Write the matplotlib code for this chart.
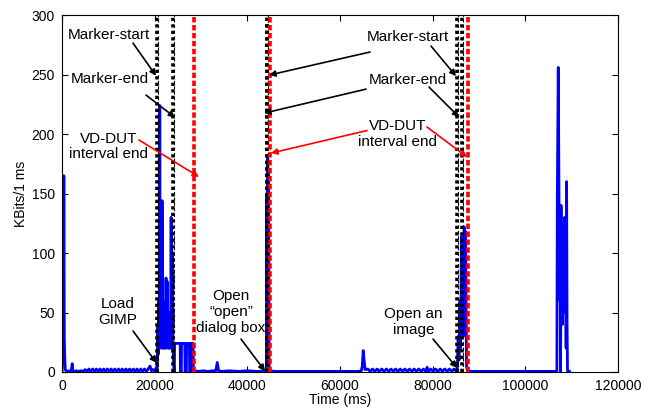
import matplotlib.pyplot as plt

plt.rcParams['font.family'] = ['Liberation Sans', 'DejaVu Sans']

# traffic trace, time in ms and throughput in KBits per 1 ms
time_ms = [0, 100, 200, 300, 400, 500, 600, 700, 900, 1200, 1500, 1800, 2000, 2200, 2300, 2400,
           2600, 3000, 3500, 4000, 4500, 5000, 5400, 5800, 6200, 6600, 7000, 7400, 7800, 8200,
           8600, 9000, 9400, 9800, 10200, 10600, 11000, 11400, 11800, 12200, 12600, 13000, 13400,
           13800, 14200, 14600, 15000, 15400, 15800, 16200, 16600, 17000, 17400, 17800, 18200,
           18600, 19000, 19300, 19600, 20000, 20300, 20500,
           20600, 20700, 20800, 20900, 21000, 21100, 21200, 21300, 21400, 21450, 21550, 21600,
           21700, 21800, 21850, 21950, 22000, 22100, 22150, 22250, 22300, 22400, 22450, 22550,
           22650, 22700, 22800, 22850, 22950, 23000, 23100, 23150, 23250, 23300, 23400, 23450,
           23550, 23650, 23700, 23800, 23850, 23950, 24100, 24250, 24300, 25500, 25550, 25750,
           25800, 26500, 26550, 26850, 26900, 27500, 27550, 27750, 27800, 28300, 28350, 28800,
           29500, 30500, 31500, 32500, 33200, 33500, 33800, 34500, 36000, 38000, 40000, 42000,
           44000, 44100, 44200, 44300, 44400, 44500, 44600, 44700, 44900, 46000, 48000, 52000,
           56000, 60000, 64000, 64600, 64800, 65000, 65400, 66000, 66500, 67000, 67500, 68000,
           68500, 69000, 69500, 70000, 70500, 71000, 71500, 72000, 72500, 73000, 73500, 74000,
           74500, 75000, 75500, 76000, 76500, 77000, 77500, 78000, 78500, 78800, 79100, 79600,
           80100, 80600, 81100, 81600, 82100, 82600, 83100, 83600, 84100, 84600, 85000, 85300,
           85500, 85600, 85700, 85800, 85900, 86000, 86100, 86200, 86300, 86400, 86500, 86600,
           86700, 86800, 86900, 87000, 87100, 87300, 87500, 88500, 92000, 96000, 100000, 104000,
           106500, 106800, 106900, 107000, 107100, 107200, 107300, 107400, 107500, 107600, 107700,
           107800, 107900, 108000, 108100, 108200, 108300, 108400, 108500, 108600, 108700, 108800,
           108900, 109000, 109100, 109500]
kbits = [0, 10, 48, 20, 165, 30, 12, 2, 1, 0.5, 1, 0.5, 1, 7, 2, 1,
         0.5, 1, 0.5, 1, 0.5, 2, 0.5, 2.5, 0.5, 2.5, 0.5, 2.5, 0.5, 2.5,
         0.5, 2.5, 0.5, 2.5, 0.5, 2.5, 0.5, 2.5, 0.5, 2.5, 0.5, 2.5, 0.5,
         2.5, 0.5, 2.5, 0.5, 2.5, 0.5, 2.5, 0.5, 2.5, 0.5, 2.5, 0.5,
         2.5, 5, 1, 2, 1, 3, 0,
         20, 40, 15, 60, 20, 224, 30, 50, 20, 45, 25, 144,
         35, 20, 60, 25, 45, 20, 45, 25, 20, 50, 79, 30,
         55, 76, 20, 25, 45, 50, 20, 22, 35, 40, 20, 20,
         130, 25, 22, 30, 100, 22, 5, 0, 24, 24, 0, 0,
         24, 24, 0, 0, 24, 24, 0, 0, 24, 24, 0, 1,
         0.5, 1, 0.5, 1, 1, 8, 1, 0.5, 1, 0.5, 1, 0.5,
         1, 2, 150, 60, 180, 90, 170, 5, 1, 0.5, 0.5, 0.5,
         0.5, 0.5, 0.5, 1, 5, 18, 2, 2.5, 0.5, 2.5, 0.5, 2.5,
         0.5, 2.5, 0.5, 2.5, 0.5, 2.5, 0.5, 2.5, 0.5, 2.5, 0.5, 2.5,
         0.5, 2.5, 0.5, 2.5, 0.5, 2.5, 0.5, 2.5, 0.5, 4, 0.5, 2.5,
         0.5, 2.5, 0.5, 2.5, 0.5, 2.5, 0.5, 2.5, 0.5, 2.5, 1, 2,
         30, 15, 10, 40, 60, 20, 50, 114, 40, 70, 90, 30,
         60, 122, 50, 80, 118, 5, 1, 0.5, 0.5, 0.5, 0.5, 0.5,
         0.5, 1, 150, 207, 256, 184, 120, 60, 111, 0, 140,
         80, 100, 40, 125, 70, 105, 50, 130, 60, 90, 20,
         160, 40, 1, 0.5]

# vertical event markers (ms)
marker_start = [20500, 44300, 85300]
marker_end = [24000, 44300, 86300]
vd_dut_end = [28500, 44800, 87700]

xticks = [0, 20000, 40000, 60000, 80000, 100000, 120000]
yticks = [0, 50, 100, 150, 200, 250, 300]

fig = plt.figure(figsize=(6.54, 4.09), dpi=100)
ax = fig.add_axes([0.0948, 0.0905, 0.8502, 0.8725])

ax.plot(time_ms, kbits, color='blue', lw=2.0, zorder=2)

for t in marker_start + marker_end:
    ax.axvline(t, color='black', lw=2.6, dashes=(0.9, 0.9), zorder=3)
    ax.axvline(t + 250, color='black', lw=0.8, dashes=(2.5, 2.5), zorder=3)
for t in vd_dut_end:
    ax.axvline(t, color='red', lw=2.6, dashes=(1.5, 0.7), zorder=3)

ax.set_xlim(0, 120000)
ax.set_ylim(0, 300)
ax.set_xticks(xticks)
ax.set_yticks(yticks)
ax.tick_params(direction='in', length=4, width=0.8, top=True, right=True, pad=5, labelsize=10)
ax.set_xlabel('Time (ms)', fontsize=10, labelpad=0)
ax.set_ylabel('KBits/1 ms', fontsize=10, labelpad=3)

txt = dict(fontsize=11, ha='center', va='center', linespacing=1.15)
ax.text(10140, 283, 'Marker-start', **txt)
ax.text(10250, 246, 'Marker-end', **txt)
ax.text(10140, 189.5, 'VD-DUT\ninterval end', **txt)
ax.text(12090, 50.4, 'Load\nGIMP', **txt)
ax.text(36480, 50.4, 'Open\n\u201copen\u201d\ndialog box', **txt)
ax.text(74570, 281.5, 'Marker-start', **txt)
ax.text(74570, 245.4, 'Marker-end', **txt)
ax.text(72500, 200, 'VD-DUT\ninterval end', **txt)
ax.text(75860, 42, 'Open an\nimage', **txt)


def arrow(start, tip, color='black'):
    ax.annotate('', xy=tip, xytext=start,
                arrowprops=dict(arrowstyle='-|>', color=color, lw=1.2, mutation_scale=9,
                                shrinkA=0, shrinkB=0), zorder=4)


arrow((15320, 276.5), (20300, 249))
arrow((18130, 232.8), (24400, 214))
arrow((16620, 195), (29570, 164), 'red')
arrow((15320, 34.5), (20400, 7.6))
arrow((38630, 27.7), (43810, 0.8))
arrow((79640, 274), (85040, 248.7))
arrow((66480, 269), (44700, 249.6))
arrow((79210, 239.5), (85690, 214.3))
arrow((65620, 237.8), (43600, 217.6))
arrow((78780, 205.9), (87410, 180.7), 'red')
arrow((65830, 203), (45100, 184), 'red')
arrow((80070, 27.7), (85250, 3.4))

fig.savefig('out.png', dpi=100)
